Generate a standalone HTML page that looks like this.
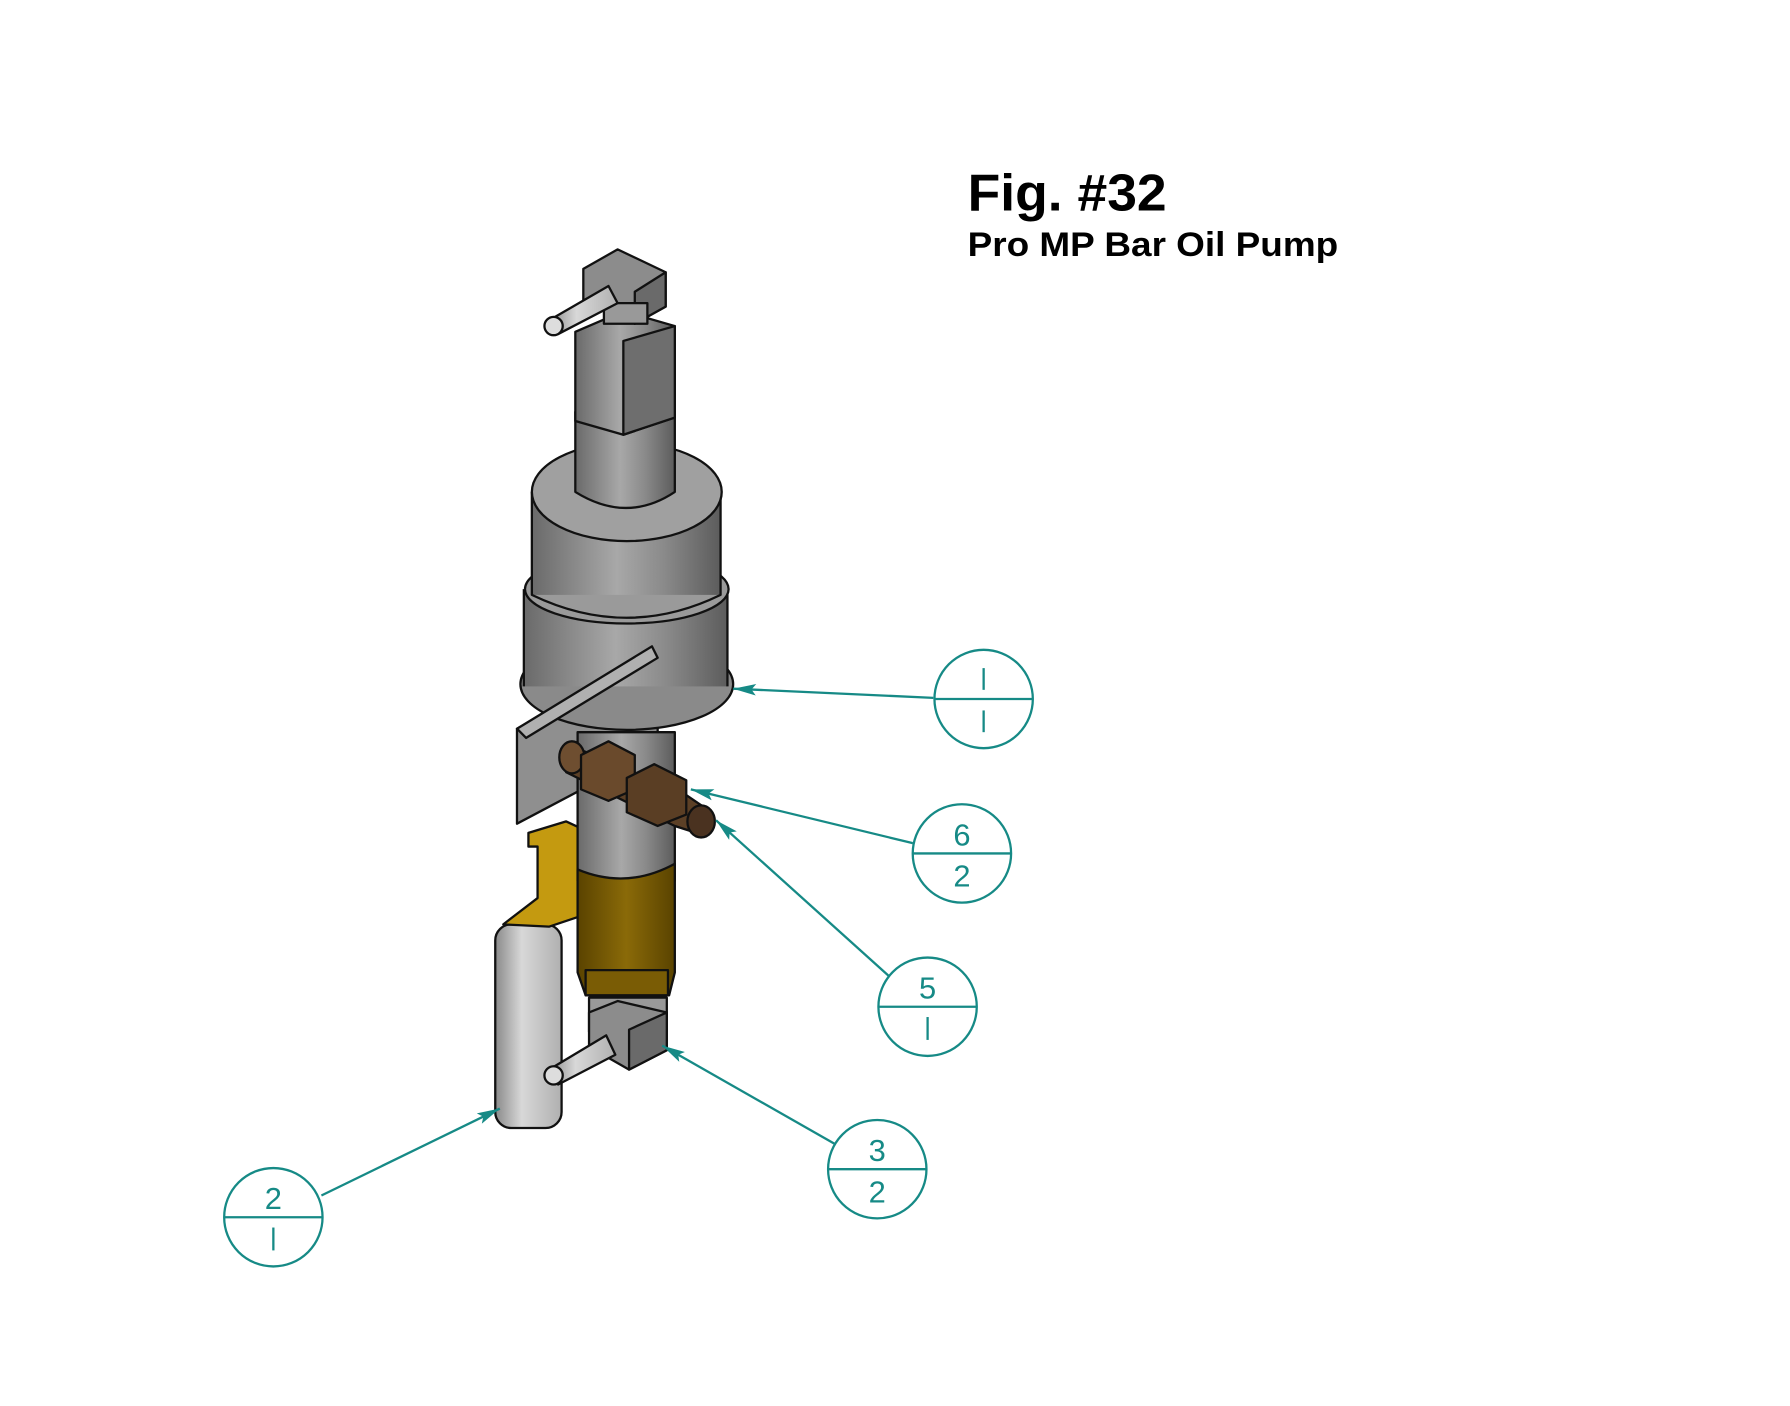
<!DOCTYPE html>
<html><head><meta charset="utf-8"><style>
html,body{margin:0;padding:0;background:#fff;}
svg{display:block;}
</style></head><body>
<svg width="1790" height="1406" viewBox="0 0 1565 1229" preserveAspectRatio="none" xmlns="http://www.w3.org/2000/svg">
<defs>
<linearGradient id="g" x1="0" x2="1"><stop offset="0" stop-color="#6a6a6a"/><stop offset=".45" stop-color="#a8a8a8"/><stop offset=".7" stop-color="#8a8a8a"/><stop offset="1" stop-color="#5c5c5c"/></linearGradient>
<linearGradient id="br" x1="0" x2="1"><stop offset="0" stop-color="#5a4300"/><stop offset=".5" stop-color="#8a6a08"/><stop offset="1" stop-color="#5a4300"/></linearGradient>
<linearGradient id="sv" x1="0" x2="1"><stop offset="0" stop-color="#8a8a8a"/><stop offset=".4" stop-color="#d8d8d8"/><stop offset="1" stop-color="#b0b0b0"/></linearGradient>
<marker id="a" viewBox="0 0 20 10" refX="20" refY="5" markerWidth="22" markerHeight="10" orient="auto" markerUnits="userSpaceOnUse"><path d="M0,0 L20,5 L0,10 L4,5z" fill="#168a86"/></marker>
</defs>
<g stroke="#111" stroke-width="2" stroke-linejoin="round">
<rect x="433" y="808" width="58" height="178" rx="14" fill="url(#sv)"/>
<path d="M440,808 L470,785 L470,740 L462,740 L462,728 L495,718 L510,725 L510,800 L480,810 Z" fill="#c49a10"/>
<polygon points="452,637 575,567 575,655 452,720" fill="#8f8f8f"/>
<rect x="505" y="640" width="85" height="130" fill="url(#g)"/>
<path d="M505,760 Q548,778 590,755 L590,850 L585,870 L512,870 L505,850 Z" fill="url(#br)"/>
<rect x="512" y="848" width="72" height="22" fill="#7a5c05"/>
<ellipse cx="548" cy="598" rx="93" ry="40" fill="#8a8a8a"/>
<rect x="458" y="515" width="178" height="85" fill="url(#g)" stroke="none"/>
<path d="M458,515 L458,600 M636,515 L636,600" fill="none"/>
<ellipse cx="548" cy="515" rx="89" ry="30" fill="#9a9a9a"/>
<rect x="465" y="430" width="165" height="90" fill="url(#g)" stroke="none"/>
<path d="M465,430 L465,520 Q548,560 630,520 L630,430" fill="none"/>
<ellipse cx="548" cy="430" rx="83" ry="43" fill="#a0a0a0"/>
<path d="M503,360 L503,430 Q548,458 590,430 L590,360 Z" fill="url(#g)"/>
<polygon points="503,290 545,272 590,285 590,365 545,380 503,368" fill="url(#g)"/>
<polygon points="545,298 590,285 590,365 545,380" fill="#6e6e6e"/>
<polygon points="510,235 540,218 582,238 582,268 555,283 510,262" fill="#8c8c8c"/>
<polygon points="555,255 582,238 582,268 555,283" fill="#6a6a6a"/>
<rect x="528" y="265" width="38" height="18" fill="#999"/>
<path d="M480,280 L532,250 L540,265 L488,292 Z" fill="url(#sv)"/>
<ellipse cx="484" cy="285" rx="8" ry="8" fill="#ddd"/>
<polygon points="452,637 570,565 575,575 460,645" fill="#b0b0b0"/>
<path d="M495,650 L600,695 L622,710 L615,730 L590,722 L495,675 Z" fill="#5c4026"/>
<ellipse cx="500" cy="662" rx="11" ry="14" fill="#6e4e30"/>
<polygon points="508,660 532,648 555,660 555,690 532,700 508,690" fill="#6a4a2c"/>
<polygon points="548,680 572,668 600,682 600,712 575,722 548,710" fill="#5a3e24"/>
<ellipse cx="613" cy="718" rx="12" ry="14" fill="#4a3220"/>
<rect x="515" y="872" width="68" height="30" fill="#999"/>
<polygon points="515,885 540,875 583,885 583,918 550,935 515,915" fill="#8c8c8c"/>
<polygon points="550,900 583,885 583,918 550,935" fill="#6a6a6a"/>
<path d="M480,935 L530,905 L538,922 L488,948 Z" fill="url(#sv)"/>
<ellipse cx="484" cy="940" rx="8" ry="8" fill="#ddd"/>
</g>
<g stroke="#168a86" stroke-width="2" fill="none">
<line x1="816" y1="610" x2="641" y2="602" marker-end="url(#a)"/>
<line x1="798" y1="737" x2="604" y2="690" marker-end="url(#a)"/>
<line x1="777" y1="853" x2="626" y2="717" marker-end="url(#a)"/>
<line x1="730" y1="1000" x2="579" y2="914" marker-end="url(#a)"/>
<line x1="281" y1="1045" x2="437" y2="969" marker-end="url(#a)"/>
<circle cx="860" cy="611" r="43"/><line x1="817" y1="611" x2="903" y2="611"/>
<circle cx="841" cy="746" r="43"/><line x1="798" y1="746" x2="884" y2="746"/>
<circle cx="811" cy="880" r="43"/><line x1="768" y1="880" x2="854" y2="880"/>
<circle cx="767" cy="1022" r="43"/><line x1="724" y1="1022" x2="810" y2="1022"/>
<circle cx="239" cy="1064" r="43"/><line x1="196" y1="1064" x2="282" y2="1064"/>
<line x1="860" y1="584" x2="860" y2="603"/><line x1="860" y1="621" x2="860" y2="640"/>
<line x1="811" y1="889" x2="811" y2="909"/>
<line x1="239" y1="1073" x2="239" y2="1093"/>
</g>
<g fill="#168a86" font-family="Liberation Sans, sans-serif" font-size="27" text-anchor="middle">
<text x="841" y="739">6</text><text x="841" y="775">2</text>
<text x="811" y="873">5</text>
<text x="767" y="1015">3</text><text x="767" y="1051">2</text>
<text x="239" y="1057">2</text>
</g>
<g font-family="Liberation Sans, sans-serif" font-weight="bold" fill="#000">
<text x="846" y="184" font-size="45" textLength="174" lengthAdjust="spacingAndGlyphs">Fig. #32</text>
<text x="846" y="224" font-size="30" textLength="324" lengthAdjust="spacingAndGlyphs">Pro MP Bar Oil Pump</text>
</g>
</svg>
</body></html>
